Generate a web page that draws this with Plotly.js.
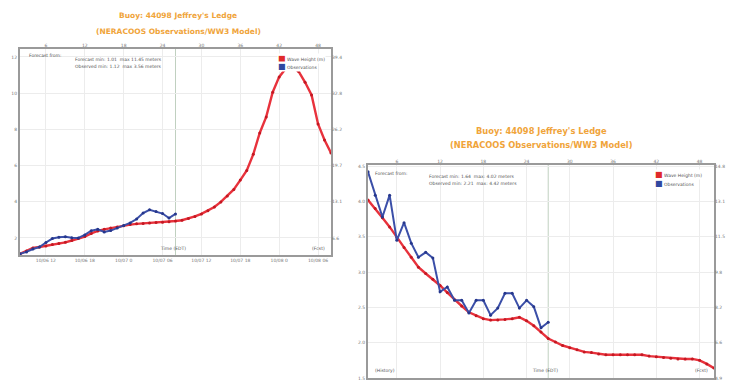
<!DOCTYPE html>
<html><head><meta charset="utf-8">
<script src="https://cdn.plot.ly/plotly-3.0.1.min.js"></script>
<style>html,body{margin:0;padding:0;background:#fff;}#chart{width:738px;height:381px;}</style>
</head><body><div id="chart"></div>
<script>
// ---------- data ----------
const FT_PER_M = 3.28084;

// Left chart (hours)
const leftForecastHours = [2,3,4,5,6,7,8,9,10,11,12,13,14,15,16,17,18,19,20,21,22,23,24,25,26,27,28,29,30,31,32,33,34,35,36,37,38,39,40,41,42,43,44,45,46,47,48,49,50];
const leftForecast = [1.12,1.28,1.45,1.50,1.56,1.64,1.70,1.76,1.86,1.97,2.08,2.25,2.39,2.48,2.55,2.61,2.67,2.74,2.78,2.80,2.83,2.85,2.87,2.90,2.94,2.98,3.07,3.19,3.33,3.50,3.71,3.99,4.32,4.68,5.20,5.73,6.62,7.80,8.69,10.05,10.90,11.35,11.45,11.20,10.60,9.90,8.30,7.41,6.70];
const leftObsHours = [2,3,4,5,6,7,8,9,10,11,12,13,14,15,16,17,18,19,20,21,22,23,24,25,26];
const leftObs = [1.12,1.23,1.39,1.50,1.75,1.97,2.04,2.07,2.01,2.00,2.17,2.40,2.48,2.33,2.41,2.55,2.69,2.83,3.05,3.38,3.56,3.46,3.35,3.10,3.33];

// Right chart (hours)
const rightForecastHours = [2,3,4,5,6,7,8,9,10,11,12,13,14,15,16,17,18,19,20,21,22,23,24,25,26,27,28,29,30,31,32,33,34,35,36,37,38,39,40,41,42,43,44,45,46,47,48,49,50];
const rightForecast = [4.02,3.90,3.77,3.64,3.49,3.35,3.21,3.07,2.98,2.90,2.81,2.71,2.61,2.52,2.43,2.38,2.34,2.32,2.32,2.33,2.34,2.36,2.31,2.24,2.15,2.06,2.01,1.96,1.93,1.90,1.87,1.86,1.84,1.83,1.83,1.83,1.83,1.83,1.83,1.81,1.80,1.79,1.78,1.77,1.77,1.77,1.75,1.70,1.64];
const rightObsHours = [2,3,4,5,6,7,8,9,10,11,12,13,14,15,16,17,18,19,20,21,22,23,24,25,26,27];
const rightObs = [4.42,4.09,3.78,4.09,3.45,3.70,3.41,3.21,3.28,3.20,2.72,2.79,2.60,2.60,2.42,2.60,2.60,2.39,2.49,2.70,2.70,2.49,2.60,2.51,2.21,2.29];

// Tick labels
const hourTicks = [6,12,18,24,30,36,42,48];
const hourLabels = ["6","12","18","24","30","36","42","48"];
const leftDateLabels = ["10/06 12","10/06 18","10/07 0","10/07 06","10/07 12","10/07 18","10/08 0","10/08 06"];
const leftMeterTicks = [2,4,6,8,10,12];
const leftMeterLabels = ["2","4","6","8","10","12"];
const leftFeetLabels = ["6.6","13.1","19.7","26.2","32.8","39.4"];
const rightMeterTicks = [1.5,2.0,2.5,3.0,3.5,4.0,4.5];
const rightMeterLabels = ["1.5","2.0","2.5","3.0","3.5","4.0","4.5"];
const rightFeetLabels = ["4.9","6.6","8.2","9.8","11.5","13.1","14.8"];

const titleText = "Buoy: 44098 Jeffrey's Ledge";
const subtitleText = "(NERACOOS Observations/WW3 Model)";
const seriesNames = ["Wave Height (m)", "Observations"];
const leftStats = ["Forecast min: 1.01  max 11.45 meters", "Observed min: 1.12  max 3.56 meters"];
const rightStats = ["Forecast min: 1.64  max: 4.02 meters", "Observed min: 2.21  max: 4.42 meters"];

// ---------- style ----------
const RED = '#e8323c', RED_M = '#c41822', BLUE = '#3b4fa8', BLUE_M = '#26378c';
const ORANGE = '#f0a43a';
const FRAME = '#9a9a9a', GRID = '#ececec', TICK = '#777777';
const FONT = 'DejaVu Sans, Verdana, sans-serif';
const W = 738, H = 381;

function line(x, y, xa, ya, color, mcolor, width) {
  return {x, y, xaxis: xa, yaxis: ya, type: 'scatter', mode: 'lines+markers',
    line: {color, width}, marker: {size: 3, color: mcolor}, showlegend: false, hoverinfo: 'skip'};
}
// empty carrier traces so the secondary (top / right) axes get drawn
function carrier(xa, ya) {
  return {x: [null], y: [null], xaxis: xa, yaxis: ya, type: 'scatter', mode: 'markers',
    marker: {size: 1, opacity: 0, color: '#fff'}, showlegend: false, hoverinfo: 'skip'};
}
const traces = [
  carrier('x2', 'y2'),
  carrier('x4', 'y4'),
  line(leftForecastHours, leftForecast, 'x', 'y', RED, RED_M, 2.4),
  line(leftObsHours, leftObs, 'x', 'y', BLUE, BLUE_M, 2),
  line(rightForecastHours, rightForecast, 'x3', 'y3', RED, RED_M, 2.4),
  line(rightObsHours, rightObs, 'x3', 'y3', BLUE, BLUE_M, 2)
];

function tf() { return {family: FONT, size: 4.5, color: TICK}; }
function frame() { return {showline: true, mirror: true, linecolor: FRAME, linewidth: 2, zeroline: false, ticks: '', color: TICK}; }
function secondary() { return {showgrid: false, zeroline: false, showline: false, ticks: '', color: TICK}; }

const L = {x0: 20, x1: 331, y0: 49, y1: 255};   // left plot frame (px)
const R = {x0: 368, x1: 714, y0: 165, y1: 378}; // right plot frame (px)
const leftYRange = [1.06, 12.44];
const rightYRange = [1.5, 4.517];
const xRange = [2, 50];

const layout = {
  width: W, height: H, margin: {l: 0, r: 0, t: 0, b: 0},
  paper_bgcolor: '#fff', plot_bgcolor: '#fff', showlegend: false,
  font: {family: FONT, size: 5, color: TICK},
  xaxis: Object.assign(frame(), {domain: [L.x0/W, L.x1/W], range: xRange, anchor: 'y',
    tickvals: hourTicks, ticktext: leftDateLabels, showgrid: false, tickfont: tf()}),
  xaxis2: Object.assign(secondary(), {overlaying: 'x', side: 'top', anchor: 'y', range: xRange, tickvals: hourTicks, ticktext: hourLabels,
    showgrid: true, gridcolor: GRID, tickfont: tf()}),
  yaxis: Object.assign(frame(), {domain: [1 - L.y1/H, 1 - L.y0/H], range: leftYRange, anchor: 'x',
    tickvals: leftMeterTicks, ticktext: leftMeterLabels, showgrid: true, gridcolor: GRID, tickfont: tf()}),
  yaxis2: Object.assign(secondary(), {overlaying: 'y', side: 'right', anchor: 'x', range: leftYRange.map(v => v*FT_PER_M),
    tickvals: leftMeterTicks.map(v => v*FT_PER_M), ticktext: leftFeetLabels, tickfont: tf()}),
  xaxis3: Object.assign(frame(), {domain: [R.x0/W, R.x1/W], range: xRange, anchor: 'y3',
    tickvals: hourTicks, showticklabels: false, showgrid: false}),
  xaxis4: Object.assign(secondary(), {overlaying: 'x3', side: 'top', anchor: 'y3', range: xRange, tickvals: hourTicks, ticktext: hourLabels,
    showgrid: true, gridcolor: GRID, tickfont: tf()}),
  yaxis3: Object.assign(frame(), {domain: [1 - R.y1/H, 1 - R.y0/H], range: rightYRange, anchor: 'x3',
    tickvals: rightMeterTicks, ticktext: rightMeterLabels, showgrid: true, gridcolor: GRID, tickfont: tf()}),
  yaxis4: Object.assign(secondary(), {overlaying: 'y3', side: 'right', anchor: 'x3', range: rightYRange.map(v => v*FT_PER_M),
    tickvals: rightMeterTicks.map(v => v*FT_PER_M), ticktext: rightFeetLabels, tickfont: tf()}),
  shapes: [
    {type: 'line', xref: 'x', yref: 'y domain', x0: leftObsHours[leftObsHours.length-1], x1: leftObsHours[leftObsHours.length-1], y0: 0, y1: 1, line: {color: '#c0d0c0', width: 1}, layer: 'below'},
    {type: 'line', xref: 'x3', yref: 'y3 domain', x0: rightObsHours[rightObsHours.length-1], x1: rightObsHours[rightObsHours.length-1], y0: 0, y1: 1, line: {color: '#c0d0c0', width: 1}, layer: 'below'}
  ],
  annotations: []
};

const A = layout.annotations;
function paperText(text, px, py, size) {
  A.push({xref: 'paper', yref: 'paper', x: px/W, y: 1 - py/H, xanchor: 'center', yanchor: 'middle',
    text, showarrow: false, font: {family: FONT, size, color: ORANGE}});
}
paperText('<b>' + titleText + '</b>', 178, 15, 7.5);
paperText('<b>' + subtitleText + '</b>', 178, 31, 7.5);
paperText('<b>' + titleText + '</b>', 541, 131, 8.3);
paperText('<b>' + subtitleText + '</b>', 541, 145, 8.3);

function inText(xa, ya, text, xd, yd, xanchor) {
  A.push({xref: xa + ' domain', yref: ya + ' domain', x: xd, y: yd, xanchor: xanchor || 'left', yanchor: 'middle',
    text, showarrow: false, font: {family: FONT, size: 4.5, color: '#555'}});
}
function fx(F, px) { return (px - F.x0) / (F.x1 - F.x0); }
function fy(F, py) { return (F.y1 - py) / (F.y1 - F.y0); }

// left chart texts
inText('x', 'y', 'Forecast from:', fx(L, 27), fy(L, 55));
inText('x', 'y', leftStats[0], fx(L, 73), fy(L, 59));
inText('x', 'y', leftStats[1], fx(L, 73), fy(L, 66));
inText('x', 'y', 'Time (EDT)', fx(L, 173), fy(L, 248), 'center');
inText('x', 'y', '(Fcst)', fx(L, 327), fy(L, 248), 'right');
// right chart texts
inText('x3', 'y3', 'Forecast from:', fx(R, 373), fy(R, 173));
inText('x3', 'y3', rightStats[0], fx(R, 427), fy(R, 176));
inText('x3', 'y3', rightStats[1], fx(R, 427), fy(R, 183));
inText('x3', 'y3', 'Time (EDT)', fx(R, 545), fy(R, 370), 'center');
inText('x3', 'y3', '(History)', fx(R, 373), fy(R, 370));
inText('x3', 'y3', '(Fcst)', fx(R, 710), fy(R, 370), 'right');

// legends (swatch + label) on white boxes
function legendItem(xa, ya, color, label, xd, yd) {
  A.push({xref: xa + ' domain', yref: ya + ' domain', x: xd, y: yd, xanchor: 'left', yanchor: 'middle',
    text: '<span style="color:' + color + ';font-size:8px">■</span> ' + label, showarrow: false,
    bgcolor: '#fff', borderpad: 0, font: {family: FONT, size: 4.5, color: '#555'}});
}
legendItem('x', 'y', '#e02a2a', seriesNames[0], fx(L, 277), fy(L, 58));
legendItem('x', 'y', '#3048a0', seriesNames[1], fx(L, 277), fy(L, 66));
legendItem('x3', 'y3', '#e02a2a', seriesNames[0], fx(R, 654), fy(R, 174));
legendItem('x3', 'y3', '#3048a0', seriesNames[1], fx(R, 654), fy(R, 183));

Plotly.newPlot('chart', traces, layout, {staticPlot: true, displayModeBar: false});
</script>
</body></html>
